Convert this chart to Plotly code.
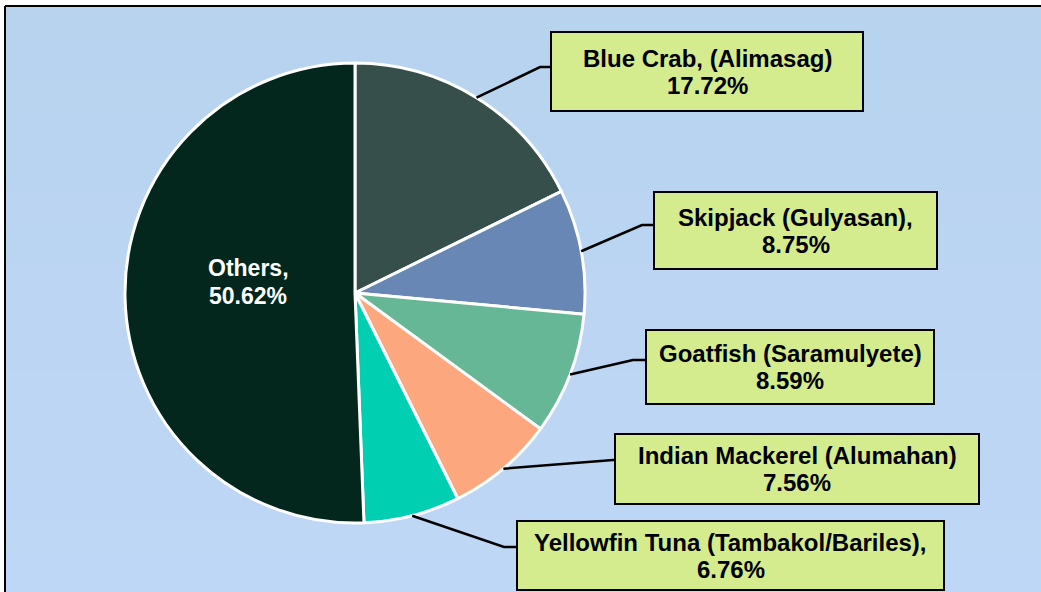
import math
import plotly.graph_objects as go

# ---------------- data ----------------
species = ["Blue Crab, (Alimasag)", "Skipjack (Gulyasan),", "Goatfish (Saramulyete)",
           "Indian Mackerel (Alumahan)", "Yellowfin Tuna (Tambakol/Bariles),", "Others,"]
shares = [17.72, 8.75, 8.59, 7.56, 6.76, 50.62]
slice_colors = ["#374F4A", "#6887B5", "#66B796", "#FCA77E", "#00CFB2", "#03261D"]

# ---------------- layout helpers (pixels) ----------------
W, H = 1041, 592
CX, CY, R = 355, 293, 230


def px(x):
    return x / W


def py(y):
    return 1 - y / H


# label boxes: (left, top, right, bottom) and elbow point, per labelled slice
boxes = [(551, 32, 863, 111), (654, 192, 937, 269), (646, 330, 934, 404),
         (615, 434, 979, 504), (517, 521, 944, 590)]
elbows = [(540, 67), (642, 225), (633, 360), (613, 460), (504, 547)]

FONT = "Liberation Sans, Arial, sans-serif"
FS = 24

fig = go.Figure()
fig.add_trace(go.Pie(
    labels=species, values=shares, sort=False, direction="clockwise", rotation=0,
    marker=dict(colors=slice_colors, line=dict(color="white", width=3)),
    textinfo="none", hoverinfo="label+percent", showlegend=False,
    domain=dict(x=[px(CX - R), px(CX + R)], y=[py(CY + R), py(CY - R)]),
))

shapes = []
# background gradient bands
top_c = (183, 211, 238)
bot_c = (191, 215, 246)
n = 16
y0 = 6
for i in range(n):
    t = i / (n - 1)
    c = tuple(round(top_c[k] + (bot_c[k] - top_c[k]) * t) for k in range(3))
    ya = y0 + (H - y0) * i / n
    yb = y0 + (H - y0) * (i + 1) / n + 1
    shapes.append(dict(type="rect", xref="paper", yref="paper", layer="below",
                       x0=px(5), x1=1.01, y0=py(yb), y1=py(ya),
                       fillcolor="rgb(%d,%d,%d)" % c, line=dict(width=0)))
# frame
shapes.append(dict(type="line", xref="paper", yref="paper", layer="below",
                   x0=px(5), x1=px(5), y0=-0.01, y1=py(6), line=dict(color="black", width=2)))
shapes.append(dict(type="line", xref="paper", yref="paper", layer="below",
                   x0=px(5), x1=1.01, y0=py(6), y1=py(6), line=dict(color="black", width=2)))

annotations = []
cum = 0.0
for i, (name, v) in enumerate(zip(species, shares)):
    a = 2 * math.pi * (cum + v / 2) / 100.0
    cum += v
    pct = f"{v:.2f}%"
    if i < len(boxes):
        sx = CX + R * math.sin(a)
        sy = CY - R * math.cos(a)
        ex, ey = elbows[i]
        l, t, r, b = boxes[i]
        shapes.append(dict(type="path", xref="paper", yref="paper",
                           path=f"M {px(sx)},{py(sy)} L {px(ex)},{py(ey)} L {px(l)},{py(ey)}",
                           line=dict(color="black", width=2.5)))
        shapes.append(dict(type="rect", xref="paper", yref="paper",
                           x0=px(l), x1=px(r), y0=py(b), y1=py(t),
                           fillcolor="#D4EC8E", line=dict(color="black", width=2)))
        mx = (l + r) / 2
        my = (t + b) / 2
        for txt, dy in ((name, -13.5), (pct, 13.5)):
            annotations.append(dict(xref="paper", yref="paper", x=px(mx), y=py(my + dy),
                                    text=f"<b>{txt}</b>", showarrow=False,
                                    xanchor="center", yanchor="middle",
                                    font=dict(family=FONT, size=FS, color="black")))
    else:
        for txt, yy in ((name, 268), (pct, 296)):
            annotations.append(dict(xref="paper", yref="paper", x=px(248), y=py(yy),
                                    text=f"<b>{txt}</b>", showarrow=False,
                                    xanchor="center", yanchor="middle",
                                    font=dict(family=FONT, size=23, color="white")))

fig.update_layout(
    width=W, height=H, margin=dict(l=0, r=0, t=0, b=0),
    paper_bgcolor="white", plot_bgcolor="white",
    shapes=shapes, annotations=annotations,
)

fig.write_html("out.html", config={"displayModeBar": False},
               post_script="document.body.style.margin='0';")
